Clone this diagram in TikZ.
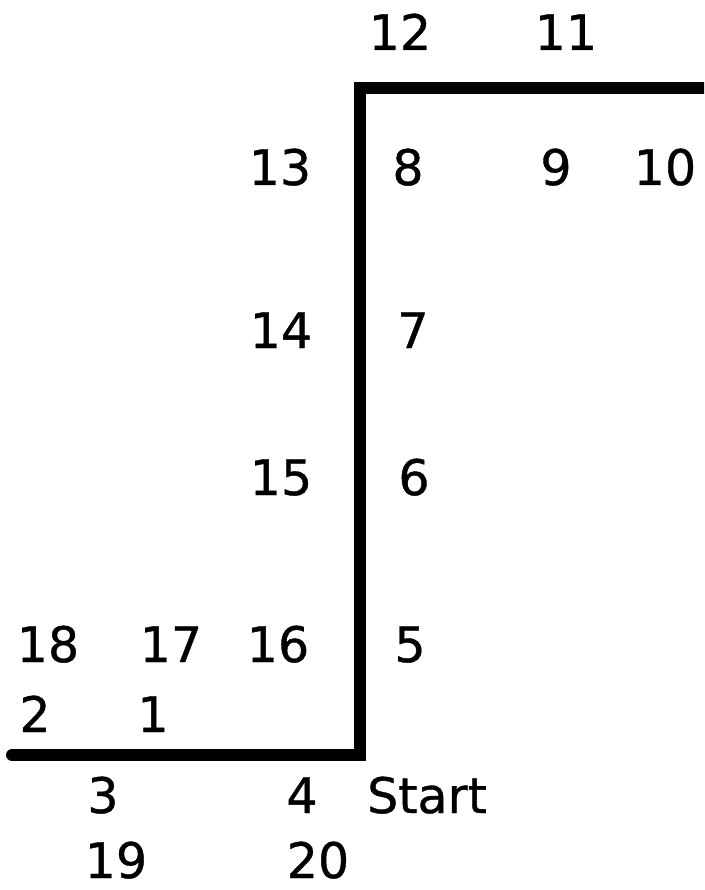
\documentclass[tikz,border=0pt]{standalone}
\usepackage{fontspec}
\setmainfont{DejaVu Sans}
\newfontfamily\labfont{DejaVu Sans}[FakeBold=0.8]
\begin{document}
\begin{tikzpicture}[x=1pt,y=-1pt,
  lab/.style={anchor=base,inner sep=0pt,text depth=0pt,font=\labfont\fontsize{49}{58}\selectfont},
  wall/.style={line width=12pt,line cap=round,line join=miter}]
\useasboundingbox (0,0) rectangle (704,890);
\coordinate (p0) at (12,755);
\coordinate (p1) at (360,755);
\coordinate (p2) at (360,88);
\coordinate (p3) at (712,88);
\begin{scope}
\clip (0,0) rectangle (704,890);
\draw[wall] (p0) -- (p1) -- (p2) -- (p3);
\end{scope}
\node[lab] (n12) at (400,50) {12};
\node[lab] (n11) at (566,50) {11};
\node[lab] (n13) at (280,185) {13};
\node[lab] (n8) at (408,185) {8};
\node[lab] (n9) at (556,185) {9};
\node[lab] (n10) at (665,185) {10};
\node[lab] (n14) at (281,348) {14};
\node[lab] (n7) at (413,348) {7};
\node[lab] (n15) at (281,495) {15};
\node[lab] (n6) at (414,495) {6};
\node[lab] (n18) at (48,662) {18};
\node[lab] (n17) at (171,662) {17};
\node[lab] (n16) at (278,662) {16};
\node[lab] (n5) at (410,662) {5};
\node[lab] (n2) at (35,732) {2};
\node[lab] (n1) at (153,732) {1};
\node[lab] (n3) at (103,813) {3};
\node[lab] (n4) at (302,813) {4};
\node[lab,anchor=base west] (start) at (367,813) {Start};
\node[lab] (n19) at (116,878) {19};
\node[lab] (n20) at (318,878) {20};
\end{tikzpicture}
\end{document}
